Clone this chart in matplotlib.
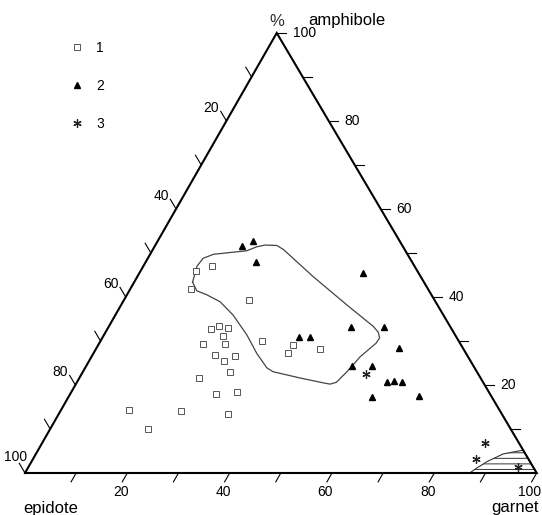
import numpy as np
import matplotlib.pyplot as plt

plt.rcParams['font.family'] = ['Liberation Sans', 'DejaVu Sans']
plt.rcParams['hatch.linewidth'] = 0.7

# compositions in %: garnet, amphibole (epidote = 100 - garnet - amphibole)
sq_garnet = [10.7, 13.4, 11.9, 24.4, 20.3, 21.5, 23.5, 23.4, 20.3, 24.7, 31.7, 38.0, 38.1,
             43.9, 24.0, 26.4, 28.0, 28.8, 23.5, 28.5, 32.5, 33.1, 23.5, 13.3, 19.2]
sq_amph = [46.0, 47.0, 41.8, 39.2, 32.7, 33.3, 32.9, 31.1, 29.4, 29.3, 29.9, 29.1, 27.2,
           28.1, 26.8, 25.5, 26.7, 23.0, 21.5, 17.9, 18.3, 13.3, 14.1, 14.3, 9.9]

tri_garnet = [17.0, 18.7, 21.6, 43.8, 38.2, 40.5, 47.4, 53.8, 59.0, 51.9, 55.8, 60.6, 61.9,
              63.6, 59.3, 68.3]
tri_amph = [51.6, 52.7, 47.9, 45.4, 31.0, 31.0, 33.1, 33.1, 28.5, 24.4, 24.4, 20.6, 20.9,
            20.6, 17.3, 17.6]

star_garnet = [55.6, 86.6, 86.5, 95.7]
star_amph = [22.5, 6.75, 3.2, 1.25]

# outlined field
field_garnet = [11.4, 10.5, 10.8, 12.4, 15.4, 18.5, 20.0, 21.4, 23.8, 25.5, 34.4, 44.1, 51.7,
                53.3, 54.2, 54.1, 52.5, 51.6, 50.7, 49.7, 48.6, 43.1, 37.2, 35.5, 31.9, 27.9,
                23.0, 19.0, 15.6, 13.2, 11.4]
field_amph = [43.4, 47.0, 48.8, 49.7, 50.1, 50.5, 51.4, 51.8, 51.7, 50.8, 44.6, 38.2, 33.3,
              32.0, 30.7, 29.5, 26.4, 23.0, 20.6, 20.2, 20.4, 21.6, 23.0, 23.9, 27.2, 31.4,
              35.9, 38.9, 40.5, 41.4, 43.4]

# hatched field near garnet corner
hatch_garnet = [86.9, 87.7, 89.0, 91.3, 94.8, 100.0]
hatch_amph = [0.0, 1.07, 2.57, 4.32, 5.2, 0.0]

ticks = list(range(10, 101, 10))
labels = [20, 40, 60, 80, 100]


def tern(g, a):
    g = np.asarray(g, dtype=float)
    a = np.asarray(a, dtype=float)
    return g + 0.492 * a, 0.86 * a


fig = plt.figure(figsize=(5.42, 5.15), dpi=100)
ax = fig.add_axes([0, 0, 1, 1])
ax.set_xlim(-4.886, 101.04)
ax.set_ylim(-8.21, 92.44)
ax.axis('off')

# frame
fx, fy = tern([0, 100, 0, 0], [0, 0, 100, 0])
ax.plot(fx, fy, color='k', lw=1.5, solid_joinstyle='miter')

dl = np.array([-0.492, -0.86]) / np.hypot(0.492, 0.86)
dr = np.array([1.0, 0.0])
dle = np.array([-0.508, 0.86]) / np.hypot(0.508, 0.86)

for v in ticks:
    # garnet, bottom
    bx, by = tern(v, 0)
    ax.plot([bx, bx + 2.0 * dl[0]], [by, by + 2.0 * dl[1]], color='k', lw=0.8)
    if v in labels:
        ax.text(bx - 1.3, -3.65, str(v), ha='center', va='center', fontsize=10)
    # amphibole, right
    bx, by = tern(100 - v, v)
    ax.plot([bx, bx + 1.9], [by, by], color='k', lw=0.8)
    if v in labels:
        ax.text(bx + 3.1, by, str(v), ha='left', va='center', fontsize=10)
    # epidote, left
    bx, by = tern(0, 100 - v)
    ex, ey = bx + 2.2 * dle[0], by + 2.2 * dle[1]
    ax.plot([bx, ex], [by, ey], color='k', lw=0.8)
    if v in labels:
        if v == 100:
            ax.text(ex + 1.6, ey + 1.2, str(v), ha='right', va='center', fontsize=10)
        else:
            ax.text(ex - 0.3, ey + 0.6, str(v), ha='right', va='center', fontsize=10)

ax.text(49.3, 88.2, '%', ha='center', va='center', fontsize=12, color='#333')
ax.text(55.4, 88.4, 'amphibole', ha='left', va='center', fontsize=12)
ax.text(5.0, -6.85, 'epidote', ha='center', va='center', fontsize=12)
ax.text(95.8, -6.65, 'garnet', ha='center', va='center', fontsize=12)

# fields
cx, cy = tern(field_garnet, field_amph)
ax.plot(cx, cy, color='#444', lw=0.9)
hx, hy = tern(hatch_garnet, hatch_amph)
ax.fill(hx, hy, facecolor='none', edgecolor='#333', hatch='---', lw=0.8)

# points
x, y = tern(sq_garnet, sq_amph)
ax.plot(x, y, ls='none', marker='s', ms=4, mfc='white', mec='#555', mew=0.7, label='1')
x, y = tern(tri_garnet, tri_amph)
ax.plot(x, y, ls='none', marker='^', ms=5, mfc='k', mec='k', label='2')
x, y = tern(star_garnet, star_amph)
ax.plot(x, y, ls='none', marker=(6, 2, 0), ms=6, mec='#222', mew=0.9, label='3')

ax.legend(loc='upper left', bbox_to_anchor=(0.129, 0.921), frameon=False, numpoints=1,
          handlelength=1.0, handletextpad=0.9, labelspacing=1.75, borderpad=0,
          borderaxespad=0, fontsize=10)

fig.savefig('out.png', dpi=100)
